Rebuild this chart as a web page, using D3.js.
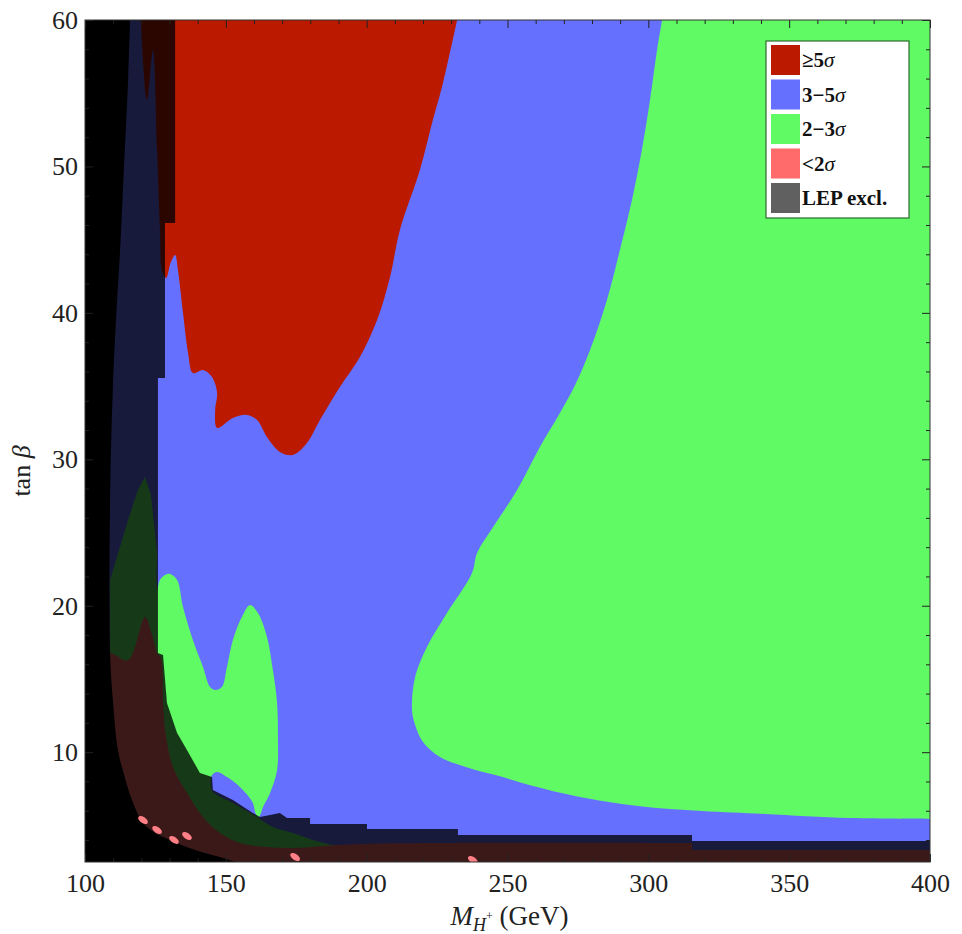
<!DOCTYPE html>
<html>
<head>
<meta charset="utf-8">
<script src="https://cdn.jsdelivr.net/npm/d3@7"></script>
<style>
body { margin: 0; background: #fff; }
svg text { font-family: "Liberation Serif", "Times New Roman", serif; }
</style>
</head>
<body>
<div id="chart"></div>
<script>
// axis ticks
const xMajorTicks = [100, 150, 200, 250, 300, 350, 400]
const yMajorTicks = [10, 20, 30, 40, 50, 60]

// region outlines, [M_H+ (GeV), tan beta]
// "edge" = traced boundary (drawn smooth), "corners" = frame corners closing the shape
const blueCorners = [[100, 60], [400, 60], [400, 2.5], [100, 2.5]]

const greenEdge = [[400, 5.44], [371.6, 5.50], [341.4, 5.78], [319.0, 5.98], [296.3, 6.32], [274.0, 7.01],
    [259.1, 7.69], [247.0, 8.37], [236.3, 8.92], [226.0, 9.67], [220.0, 10.70], [217.2, 11.86],
    [216.1, 12.88], [217.2, 15.13], [221.4, 17.18], [228.5, 19.50], [237.4, 22.23], [239.2, 23.60],
    [244.9, 25.38], [253.4, 27.90], [261.5, 30.84], [268.6, 33.16], [274.0, 35.07], [279.3, 37.46],
    [285.3, 40.88], [289.9, 44.29], [294.2, 47.71], [297.7, 51.12], [300.6, 54.54], [303.1, 57.95],
    [304.9, 60]]
const greenCorners = [[400, 60]]

const redEdge = [[232.1, 60], [227.1, 55.70], [223.5, 53.17], [218.9, 49.76], [211.8, 45.66],
    [208.3, 42.45], [203.7, 39.51], [197.6, 36.99], [190.5, 34.94], [183.4, 32.68], [178.8, 31.11],
    [173.8, 30.29], [169.2, 30.50], [164.6, 31.52], [161.1, 32.68], [157.5, 33.03], [152.5, 32.82],
    [146.9, 32.14], [146.2, 33.37], [146.9, 34.53], [145.1, 35.62], [141.9, 36.10], [138.3, 35.89],
    [136.6, 37.26], [134.8, 39.99], [133.0, 42.93], [132.0, 43.95], [130.5, 43.47], [128.8, 42.38],
    [127.3, 42.93], [126.6, 45.80], [125.6, 51.12], [124.1, 57.95], [122.0, 54.54], [119.9, 59.66]]
const redCorners = [[119.5, 60]]

// low-mass 2-3 sigma island plus the band hidden under the LEP exclusion
const greenIslandEdge = [[125.6, 23.60], [125.6, 21.08], [126.6, 21.76], [128.4, 22.10], [130.2, 22.17],
    [132.7, 21.76], [134.8, 19.91], [138.3, 17.66], [141.9, 15.82], [144.4, 14.45], [146.2, 14.25],
    [148.6, 14.45], [150.4, 15.82], [152.5, 17.66], [155.7, 19.23], [158.6, 20.05], [161.4, 19.50],
    [164.6, 17.87], [166.7, 15.61], [168.2, 13.36], [168.5, 11.04], [168.2, 8.78], [165.7, 7.21],
    [163.2, 6.25], [162.5, 5.85], [161.4, 5.50], [160.4, 5.91], [159.6, 6.53], [155.0, 7.62],
    [150.4, 8.30], [146.9, 8.65], [145.1, 8.44], [144.7, 7.76], [145.4, 7.28], [152.5, 6.53],
    [159.3, 5.78], [166.7, 4.89], [173.8, 4.48], [180.9, 4.01], [188.0, 3.66], [192.3, 3.52]]
const greenIslandCorners = [[192.3, 2.5], [108.9, 2.5], [108.9, 21.76], [115.3, 25.85], [118.8, 27.90],
    [121.3, 28.79], [123.4, 27.56]]

const pinkEdge = [[100, 16.77], [108.9, 16.77], [115.3, 16.29], [121.3, 19.23], [123.8, 18.0], [125.6, 16.77],
    [127.0, 16.4], [127.8, 13.2], [128.6, 11.31], [131.2, 8.99], [136.2, 7.21], [141.9, 5.57],
    [147.9, 4.48], [155.0, 3.80], [164.6, 3.52], [173.8, 3.46], [197.6, 3.73], [315.5, 3.80]]
const pinkCorners = [[315.5, 3.32], [400, 3.32], [400, 2.5], [100, 2.5]]

const lepRegion = [[100, 60], [132.0, 60], [132.0, 46.14], [128.4, 46.14], [128.4, 35.55], [125.9, 35.55],
    [125.9, 16.77], [127.7, 16.64], [129.1, 13.36], [132.7, 11.31], [136.2, 10.15], [140.8, 8.58],
    [145.1, 8.30], [145.4, 7.42], [152.5, 6.73], [159.6, 5.85], [162.1, 5.57], [165.7, 5.71],
    [169.2, 5.85], [171.7, 5.50], [179.9, 5.50], [179.9, 5.10], [200.1, 5.10], [200.1, 4.75],
    [232.4, 4.75], [232.4, 4.34], [315.5, 4.34], [315.5, 3.93], [400, 3.93], [400, 2.5], [100, 2.5]]

const noDataEdge = [[116.0, 60], [115.3, 55.90], [113.8, 49.76], [112.4, 44.09], [111.0, 39.51],
    [109.9, 34.94], [108.9, 27.22], [108.9, 16.77], [109.9, 13.56], [111.7, 10.15], [114.2, 8.24],
    [116.7, 6.73], [120.6, 5.16], [124.9, 4.48], [130.2, 4.01], [139.1, 3.32], [147.9, 2.84],
    [153.3, 2.5]]
const noDataCorners = [[100, 2.5], [100, 60]]

// isolated <2 sigma points
const pinkSpots = [[120.6, 5.37], [125.6, 4.69], [131.6, 4.01], [136.2, 4.28], [174.6, 2.84], [237.7, 2.64]]

const legendLabels = ["≥5σ", "3−5σ", "2−3σ", "<2σ", "LEP excl."]
const legendColors = ["#bb1a00", "#6670ff", "#60fa64", "#ff6b6b", "#606060"]

const margin = {top: 20, right: 32, bottom: 72, left: 85}
const width = 845
const height = 842

const svg = d3.select("#chart")
    .append("svg")
    .attr("width", 962)
    .attr("height", 934)

const defs = svg.append("defs")
defs.append("clipPath")
    .attr("id", "plotClip")
    .append("rect")
    .attr("width", width)
    .attr("height", height)

const plt = svg.append("g")
    .attr("transform", "translate(" + margin.left + "," + margin.top + ")")

const x = d3.scaleLinear().domain([100, 400]).range([0, width])
const y = d3.scaleLinear().domain([2.5, 60]).range([height, 0])

const smoothLine = d3.line()
    .x(d => x(d[0]))
    .y(d => y(d[1]))
    .curve(d3.curveCatmullRom.alpha(0.5))

const straightLine = d3.line()
    .x(d => x(d[0]))
    .y(d => y(d[1]))

// smooth traced edge, closed with straight segments through the corners
function regionPath(edge, corners) {
    return smoothLine(edge) + corners.map(p => "L" + x(p[0]) + "," + y(p[1])).join("") + "Z"
}

const regions = plt.append("g").attr("clip-path", "url(#plotClip)")

const layers = [
    {d: straightLine(blueCorners) + "Z", fill: legendColors[1], opacity: 1},
    {d: regionPath(greenEdge, greenCorners), fill: legendColors[2], opacity: 1},
    {d: regionPath(redEdge, redCorners), fill: legendColors[0], opacity: 1},
    {d: regionPath(greenIslandEdge, greenIslandCorners), fill: legendColors[2], opacity: 1},
    {d: regionPath(pinkEdge, pinkCorners), fill: legendColors[3], opacity: 1},
    // LEP exclusion darkens whatever lies underneath
    {d: straightLine(lepRegion) + "Z", fill: "#000", opacity: 0.77},
    {d: regionPath(noDataEdge, noDataCorners), fill: "#000", opacity: 1}
]

regions.selectAll("path.region")
    .data(layers)
    .enter()
    .append("path")
    .attr("class", "region")
    .attr("d", d => d.d)
    .attr("fill", d => d.fill)
    .attr("fill-opacity", d => d.opacity)

regions.selectAll("ellipse")
    .data(pinkSpots)
    .enter()
    .append("ellipse")
    .attr("transform", d => "translate(" + x(d[0]) + "," + y(d[1]) + ") rotate(35)")
    .attr("rx", 5.5)
    .attr("ry", 3)
    .attr("fill", "#ff7f86")

//Frame ticks, pointing inwards on every side
const xMinor = d3.range(100, 401, 10).filter(v => v % 50 !== 0)
const yMinor = d3.range(4, 60, 2).filter(v => v % 10 !== 0)

function tickStyle(g) {
    g.select(".domain").remove()
    g.selectAll("line").attr("stroke", "#222")
    g.selectAll("text")
        .attr("font-size", 26)
        .attr("fill", "#222")
        .style("font-family", "'Liberation Serif', serif")
}

plt.append("g")
    .attr("transform", "translate(0," + height + ")")
    .call(d3.axisBottom(x).tickValues(xMajorTicks).tickSize(-8).tickPadding(12).tickFormat(d3.format("d")))
    .call(tickStyle)
plt.append("g")
    .attr("transform", "translate(0," + height + ")")
    .call(d3.axisBottom(x).tickValues(xMinor).tickSize(-4).tickFormat(""))
    .call(tickStyle)
plt.append("g")
    .call(d3.axisTop(x).tickValues(xMajorTicks).tickSize(-8).tickFormat(""))
    .call(tickStyle)
plt.append("g")
    .call(d3.axisTop(x).tickValues(xMinor).tickSize(-4).tickFormat(""))
    .call(tickStyle)

plt.append("g")
    .call(d3.axisLeft(y).tickValues(yMajorTicks).tickSize(-8).tickPadding(7).tickFormat(d3.format("d")))
    .call(tickStyle)
plt.append("g")
    .call(d3.axisLeft(y).tickValues(yMinor).tickSize(-4).tickFormat(""))
    .call(tickStyle)
plt.append("g")
    .attr("transform", "translate(" + width + ",0)")
    .call(d3.axisRight(y).tickValues(yMajorTicks).tickSize(-8).tickFormat(""))
    .call(tickStyle)
plt.append("g")
    .attr("transform", "translate(" + width + ",0)")
    .call(d3.axisRight(y).tickValues(yMinor).tickSize(-4).tickFormat(""))
    .call(tickStyle)

plt.append("rect")
    .attr("width", width)
    .attr("height", height)
    .attr("fill", "none")
    .attr("stroke", "#333")
    .attr("stroke-width", 1)

//Axis titles
const xTitle = plt.append("text")
    .attr("x", width / 2 + 2)
    .attr("y", height + 63)
    .attr("text-anchor", "middle")
    .attr("font-size", 27)
    .attr("fill", "#222")
xTitle.append("tspan").attr("font-style", "italic").text("M")
xTitle.append("tspan").attr("font-style", "italic").attr("font-size", 18).attr("dy", 6).text("H")
xTitle.append("tspan").attr("font-size", 12).attr("dy", -11).text("+")
xTitle.append("tspan").attr("dy", 5).text(" (GeV)")

const yTitle = plt.append("text")
    .attr("transform", "translate(-55," + (height / 2 + 30) + ") rotate(-90)")
    .attr("text-anchor", "middle")
    .attr("font-size", 26)
    .attr("fill", "#222")
yTitle.append("tspan").text("tan ")
yTitle.append("tspan").attr("font-style", "italic").text("β")

//Legend
const legend = plt.append("g")
    .attr("transform", "translate(" + (x(400) - 164) + "," + 21 + ")")

legend.append("rect")
    .attr("width", 143)
    .attr("height", 177)
    .attr("fill", "#fff")
    .attr("stroke", "#2d6b2d")
    .attr("stroke-width", 1.2)

const rows = legend.selectAll("g.row")
    .data(legendLabels)
    .enter()
    .append("g")
    .attr("class", "row")
    .attr("transform", (d, i) => "translate(5," + (4 + i * 34.5) + ")")

rows.append("rect")
    .attr("width", 29)
    .attr("height", 30)
    .attr("fill", (d, i) => legendColors[i])

rows.append("text")
    .attr("x", 31)
    .attr("y", 22)
    .attr("font-size", 21)
    .attr("font-weight", "bold")
    .attr("fill", "#111")
    .each(function (d) {
        const t = d3.select(this)
        if (d.endsWith("σ")) {
            t.append("tspan").text(d.slice(0, -1))
            t.append("tspan").attr("font-style", "italic").attr("font-weight", "normal").text("σ")
        }
        else
            t.text(d)
    })
</script>
</body>
</html>
